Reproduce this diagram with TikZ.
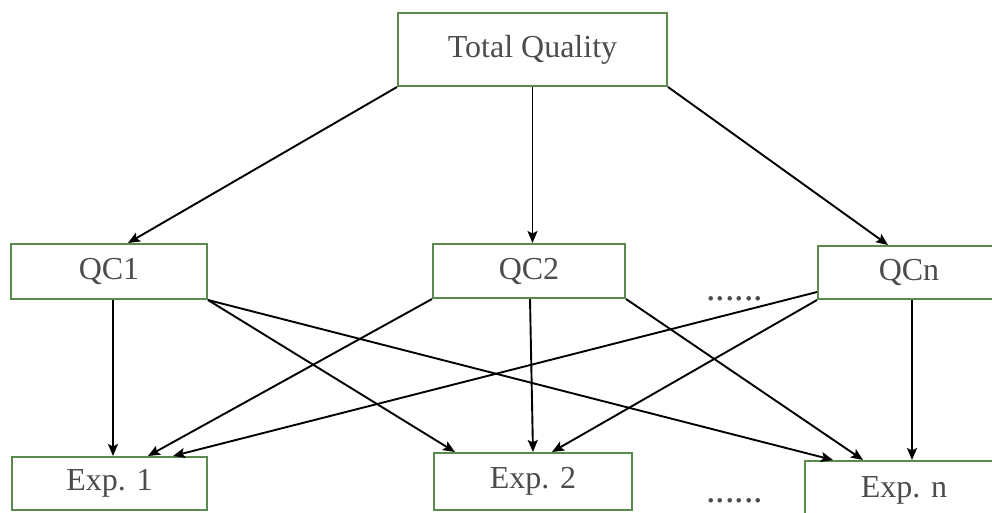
\documentclass[tikz,border=0pt]{standalone}
\usepackage{fontspec}
\setmainfont{Liberation Serif}
\usetikzlibrary{arrows.meta}
\definecolor{boxgreen}{HTML}{5B8A4F}
\definecolor{txtgray}{HTML}{4C4C4C}
\begin{document}
\begin{tikzpicture}[x=1pt,y=-1pt,
  qbox/.style={draw=boxgreen, line width=2pt, fill=white, inner sep=0pt, text=txtgray,
    font=\fontsize{32}{38}\selectfont},
  conn/.style={line width=1.9pt, -{Stealth[length=12pt,width=10pt,inset=2.5pt]}},
  dotstyle/.style={text=txtgray, font=\fontsize{38}{44}\selectfont, inner sep=0pt}]
\useasboundingbox (0,0) rectangle (992,512);
\clip (0,0) rectangle (992,512);
\fill[white] (0,0) rectangle (992,512);
% nodes
\node[qbox, minimum width=269pt, minimum height=73pt] (TQ) at (532.5,49.5) {Total Quality};
\node[qbox, minimum width=196pt, minimum height=55pt] (QC1) at (109,271.5) {QC1};
\node[qbox, minimum width=192pt, minimum height=54pt] (QC2) at (529,271) {QC2};
\node[qbox, minimum width=182pt, minimum height=53pt] (QCn) at (909,272.5) {QCn};
\node[qbox, minimum width=195pt, minimum height=53pt] (E1) at (109.5,483.5) {Exp. 1};
\node[qbox, minimum width=198pt, minimum height=57pt] (E2) at (533,481.5) {Exp. 2};
\node[qbox, minimum width=198pt, minimum height=58pt] (En) at (904,490) {Exp. n};
\node[dotstyle, anchor=base west] (d1) at (706,300) {......};
\node[dotstyle, anchor=base west] (d2) at (706,502) {......};
% connectors
\draw[conn] (TQ.south west) -- ([xshift=19pt]QC1.north);
\draw[conn] (TQ.south) -- (TQ.south |- QC2.north);
\draw[conn] (TQ.south east) -- ([xshift=-21pt]QCn.north);
\draw[conn] ([xshift=4pt]QC1.south) -- ([xshift=4pt]QC1.south |- E1.north);
\draw[conn] (QC1.south east) -- ([xshift=-78pt]E2.north);
\draw[conn] (QC1.south east) -- ([xshift=-71pt]En.north);
\draw[conn] (QC2.south west) -- ([xshift=38.5pt]E1.north);
\draw[conn] ([xshift=1pt]QC2.south) -- (E2.north);
\draw[conn] (QC2.south east) -- ([xshift=-41pt]En.north);
\draw[conn] ([yshift=-19.5pt]QCn.west) -- ([xshift=63.5pt]E1.north);
\draw[conn] (QCn.south west) -- ([xshift=19pt]E2.north);
\draw[conn] ([xshift=3pt]QCn.south) -- ([xshift=3pt]QCn.south |- En.north);
\end{tikzpicture}
\end{document}
